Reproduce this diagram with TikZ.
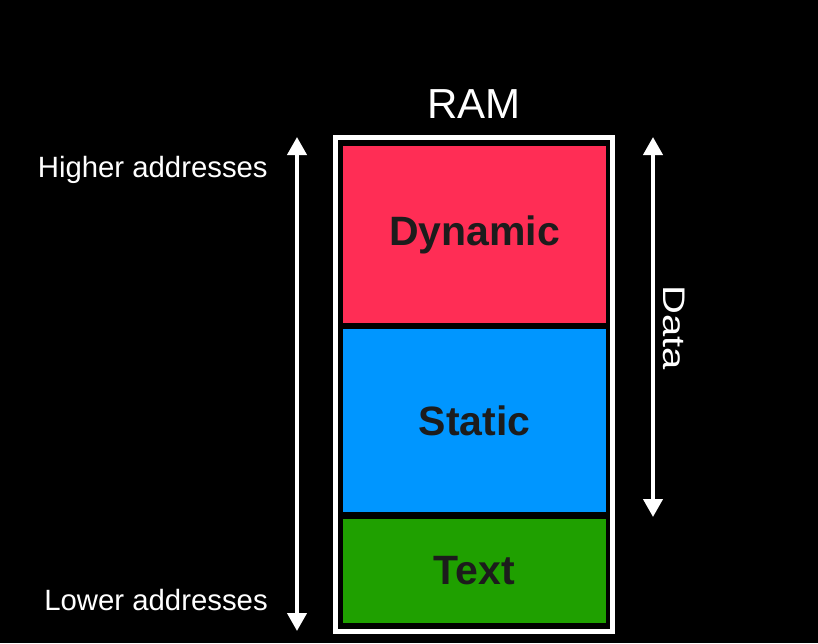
\documentclass[tikz,border=0pt]{standalone}
\usepackage{fontspec}
\setmainfont{Liberation Sans}
\usetikzlibrary{arrows.meta}
\definecolor{dynred}{RGB}{255,45,85}
\definecolor{statblue}{RGB}{0,150,255}
\definecolor{textgreen}{RGB}{31,160,0}
\definecolor{darktext}{RGB}{28,28,28}
\begin{document}
\begin{tikzpicture}[x=0.75pt,y=-0.75pt,
  block/.style={draw=none,inner sep=0pt,minimum width=197.25pt,
    text=darktext,font=\fontsize{30.75}{36}\selectfont\bfseries},
  label/.style={text=white,inner sep=0pt,font=\fontsize{22}{26}\selectfont},
  addrarrow/.style={draw=white,line width=3pt,
    {Triangle[width=14.25pt,length=13.5pt]}-{Triangle[width=14.25pt,length=13.5pt]}}
]
\fill[black] (0,0) rectangle (818,643);
\useasboundingbox (0,0) rectangle (818,643);

% RAM outer frame
\node[draw=white,line width=3.75pt,inner sep=0pt,minimum width=207.75pt,
  minimum height=370.5pt] (ram) at (474,384.5) {};
\node[text=white,inner sep=0pt,anchor=base,font=\fontsize{31.5}{36}\selectfont]
  (ramlabel) at (474,118) {RAM};

% Blocks
\node[block,fill=dynred,minimum height=132.75pt] (dyn) at (474.5,234.5) {Dynamic};
\node[block,fill=statblue,minimum height=137.25pt] (stat) at (474.5,420.5) {Static};
\node[block,fill=textgreen,minimum height=78pt] (txt) at (474.5,571) {Text};

% Address arrow
\coordinate (ltop) at (297,137);
\coordinate (lbot) at (297,631);
\draw[addrarrow] (ltop) -- (lbot);
\node[label,anchor=base east] (higher) at (268,177) {Higher addresses};
\node[label,anchor=base east] (lower) at (268,610) {Lower addresses};

% Data arrow
\coordinate (rtop) at (653,137);
\coordinate (rbot) at (653,517);
\draw[addrarrow] (rtop) -- (rbot);
\node[text=white,inner sep=0pt,rotate=-90,font=\fontsize{30}{34}\selectfont]
  (data) at (674,327.5) {\scalebox{1}[0.78]{Data}};
\end{tikzpicture}
\end{document}
